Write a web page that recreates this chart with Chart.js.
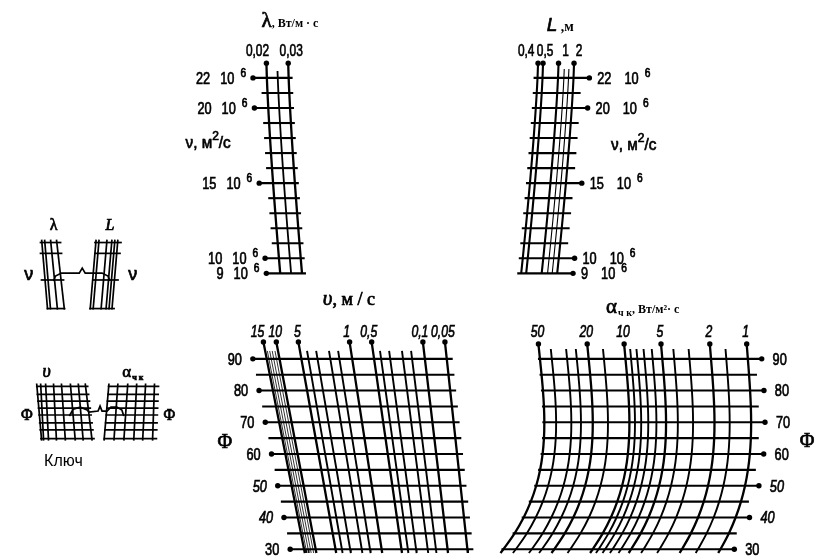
<!DOCTYPE html>
<html>
<head>
<meta charset="utf-8" />
<title>Номограмма</title>
<script src="https://cdn.jsdelivr.net/npm/chart.js@4.4.0/dist/chart.umd.min.js"></script>
<style>
    html, body { margin: 0; padding: 0; background: #fff; }
    #wrap { width: 822px; height: 557px; }
</style>
</head>
<body>
<div id="wrap"><canvas id="nomo" width="822" height="557"></canvas></div>
<script>
// scale values of the nomogram
const viscosityTicks = [22, 21, 20, 19, 18, 17, 16, 15, 14, 13, 12, 11, 10, 9];   // ν·10^6, м²/с
const viscosityLabels = [22, 20, 15, 10, 9];
const conductivityLines = [0.02, 0.025, 0.03];                                      // λ
const conductivityLabels = ['0,02', '0,03'];
const lengthLines = [0.4, 0.5, 1, 1.3, 1.6, 2];                                     // L, м
const lengthLabels = ['0,4', '0,5', '1', '2'];
const velocityLines = [15, 14, 13, 12, 11, 10, 5, 4, 3, 2, 1.5, 1, 0.5, 0.4, 0.3, 0.2, 0.15, 0.1, 0.05]; // υ, м/с
const velocityLabels = ['15', '10', '5', '1', '0,5', '0,1', '0,05'];
const humidityLines = [90, 85, 80, 75, 70, 65, 60, 55, 50, 45, 40, 35, 30];         // Φ
const humidityLabels = [90, 80, 70, 60, 50, 40, 30];
const heatLines = [50, 40, 30, 25, 20, 15, 10, 9, 8, 7, 6, 5, 4, 3, 2, 1.5, 1];    // α чк
const heatLabels = ['50', '20', '10', '5', '2', '1'];

// label nudges where the printed numbers are spread apart
const conductivityLabelShift = [-9, 3];
const lengthLabelShift = [-12, 2, 7, 5];
const velocityLabelShift = [-6, -1, -1, -3, -3, -3, -2];

const num = s => parseFloat(String(s).replace(',', '.'));
const isLabel = (list, v) => list.some(s => num(s) === v);

// nomogram geometry (chart units = canvas px)
const nuY = nu => 75 + (22 - nu) * 15.25;
const lamX = (lam, y) => 265 + (lam - 0.02) * 2200 + 14 * Math.pow(Math.max(0, (y - 60) / 214), 1.3);
const lenX = (L, y) => 560 + 52 * Math.log10(L) - 17 * Math.pow(Math.max(0, (y - 60) / 213), 1.3);
const phiY = phi => 360 + (90 - phi) * 3.22;
const velX = (v, y) => {
    const t = (y - 343) / 210;
    return 262 + 41 * t + (349 - 74 * Math.log10(v) - 262) * (1 - 0.1 * t);
};
const heatX = (a, y) => {
    const t = (y - 358) / 193;
    const bend = 20 * t - 55 * t * t * t;
    return 751 - 123.6 * Math.log10(a) + bend * (0.75 + 0.25 * Math.log10(a) / 1.7);
};

const datasets = [];
const addLine = (pts, width, tension = 0) => datasets.push({
    data: pts, showLine: true, borderColor: '#000', borderWidth: width, tension,
    pointRadius: c => (c.raw && c.raw.dot ? 2.7 : 0),
    pointBackgroundColor: '#000', pointBorderWidth: 0, clip: false
});

// λ – ν block
conductivityLines.forEach(lam => {
    const lab = isLabel(conductivityLabels, lam);
    const top = lab ? 60 : 68;
    const pts = [{ x: lamX(lam, top), y: top, dot: lab }];
    viscosityTicks.forEach(nu => pts.push({ x: lamX(lam, nuY(nu)), y: nuY(nu) }));
    addLine(pts, lab ? 2.3 : 1.8, 0.2);
});
viscosityTicks.forEach(nu => {
    const y = nuY(nu), lab = viscosityLabels.includes(nu);
    addLine([{ x: lamX(0.02, y) - (lab ? 14 : 6), y, dot: lab }, { x: lamX(0.03, y) + 4, y }], 2.1);
});

// L – ν block
lengthLines.forEach(L => {
    const lab = isLabel(lengthLabels, L);
    const top = lab ? 60 : 66;
    const pts = [{ x: lenX(L, top), y: top, dot: lab }];
    viscosityTicks.forEach(nu => pts.push({ x: lenX(L, nuY(nu)), y: nuY(nu) }));
    addLine(pts, lab ? 2.1 : 1.1, 0.2);
});
viscosityTicks.forEach(nu => {
    const y = nuY(nu), lab = viscosityLabels.includes(nu);
    addLine([{ x: lenX(0.4, y) - 4, y }, { x: lenX(2, y) + (lab ? 16 : 8), y, dot: lab }], 2.1);
});

// υ – Φ block
velocityLines.forEach(v => {
    const lab = isLabel(velocityLabels, v);
    const hatch = v > 10 && v < 15;
    const top = lab ? 343 : 352;
    const pts = [{ x: velX(v, top), y: top, dot: lab }];
    humidityLines.forEach(phi => pts.push({ x: velX(v, phiY(phi)), y: phiY(phi) }));
    pts.push({ x: velX(v, 557), y: 557 });
    addLine(pts, hatch ? 0.8 : (lab ? 2.3 : 1.9));
});
humidityLines.forEach(phi => {
    const y = phiY(phi), lab = humidityLabels.includes(phi);
    addLine([{ x: velX(15, y) - 14, y, dot: lab }, { x: velX(0.05, y) + 6, y }], 2.1);
});

// α – Φ block
heatLines.forEach(a => {
    const lab = isLabel(heatLabels, a);
    const top = lab ? 345 : 350;
    const pts = [{ x: heatX(a, top), y: top, dot: lab }];
    humidityLines.forEach(phi => pts.push({ x: heatX(a, phiY(phi)), y: phiY(phi) }));
    pts.push({ x: heatX(a, 557), y: 557 });
    addLine(pts, lab ? 2.3 : 1.9, 0.35);
});
humidityLines.forEach(phi => {
    const y = phiY(phi), lab = humidityLabels.includes(phi);
    addLine([{ x: heatX(50, y) - 2, y }, { x: heatX(1, y) + (lab ? 14 : 8), y, dot: lab }], 2.1);
});

// key sketches
const keyPaths = [
    [[38, 239], [44, 310]], [[41, 239], [47, 310]], [[47, 239], [54, 310]], [[53, 239], [61, 310]],
    [[36, 242], [58, 242]], [[36, 253], [59, 253]], [[37, 280], [61, 280]], [[43, 309], [62, 309]],
    [[93, 239], [87, 310]], [[96, 239], [90, 310]], [[104, 239], [98, 310]], [[109, 239], [103, 310]], [[112, 239], [106, 310]], [[115, 239], [109, 310]],
    [[91, 242], [119, 242]], [[91, 253], [118, 253]], [[89, 280], [116, 280]], [[86, 309], [112, 309]],
    [[50, 281], [52, 276], [58, 273], [76, 273], [79, 268], [82, 273], [99, 273], [105, 276], [107, 281]],
    [[66, 418], [70, 411], [77, 409], [84, 412], [86, 414], [95, 413], [97, 408], [99, 413], [104, 413], [108, 409], [114, 409], [119, 412], [121, 418]]
];
[33, 37, 42, 50, 58, 67, 75, 82].forEach((t, i) => keyPaths.push([[t, 385], [[38, 40, 45, 53, 62, 72, 80, 89][i], 443]]));
[106, 115, 125, 134, 143, 152].forEach((t, i) => keyPaths.push([[t, 385], [[101, 111, 121, 131, 140, 150][i], 443]]));
[388, 396, 403, 410, 417, 425, 432, 441].forEach(y => {
    keyPaths.push([[32 + (y - 385) * 0.08, y], [85 + (y - 385) * 0.12, y]]);
    keyPaths.push([[105 - (y - 385) * 0.08, y], [157 - (y - 385) * 0.04, y]]);
});

const SANS = '"Liberation Sans", Arial, sans-serif';
const SERIF = '"Liberation Serif", "Times New Roman", serif';
const digits = (size, italic) => `${italic ? 'italic ' : ''}${size}px ${SANS}`;

// draws a run of text pieces; a thin stroke thickens the glyphs like the printed ones
function run(ctx, pieces, x, y, align) {
    const widths = pieces.map(p => {
        ctx.font = p.font;
        return ctx.measureText(p.t).width * (p.sx || 1) + (p.gap || 0);
    });
    const total = widths.reduce((a, b) => a + b, 0);
    let cx = align === 'right' ? x - total : align === 'center' ? x - total / 2 : x;
    pieces.forEach((p, i) => {
        ctx.save();
        ctx.font = p.font;
        ctx.fillStyle = '#000';
        ctx.strokeStyle = '#000';
        ctx.lineWidth = p.heavy === false ? 0 : 0.7;
        ctx.textAlign = 'left';
        ctx.textBaseline = 'alphabetic';
        ctx.translate(cx + (p.gap || 0), y + (p.dy || 0));
        ctx.scale(p.sx || 1, 1);
        ctx.fillText(p.t, 0, 0);
        if (p.heavy !== false) ctx.strokeText(p.t, 0, 0);
        ctx.restore();
        cx += widths[i];
    });
}

const nuPieces = (nu, gap) => [
    { t: String(nu), font: digits(17), sx: 0.75 },
    { t: '10', font: digits(17), sx: 0.75, gap },
    { t: '6', font: digits(12), sx: 0.85, dy: -7, gap: 6 }
];
const nuTitle = [
    { t: 'ν, м', font: `17px ${SANS}`, sx: 0.9 },
    { t: '2', font: `12px ${SANS}`, dy: -8 },
    { t: '/с', font: `17px ${SANS}`, sx: 0.9 }
];

const textPlugin = {
    id: 'nomoText',
    afterDatasetsDraw(chart) {
        const ctx = chart.ctx;
        const sx = chart.scales.x, sy = chart.scales.y;
        const px = v => sx.getPixelForValue(v), py = v => sy.getPixelForValue(v);

        // key
        ctx.save();
        ctx.strokeStyle = '#000';
        ctx.lineWidth = 1.7;
        keyPaths.forEach(path => {
            ctx.beginPath();
            path.forEach(([x, y], i) => i ? ctx.lineTo(px(x), py(y)) : ctx.moveTo(px(x), py(y)));
            ctx.stroke();
        });
        ctx.restore();
        run(ctx, [{ t: 'λ', font: `16px ${SERIF}` }], px(50), py(229), 'center');
        run(ctx, [{ t: 'L', font: `italic 16px ${SERIF}` }], px(107), py(229), 'center');
        run(ctx, [{ t: 'ν', font: `18px ${SANS}` }], px(25), py(280), 'center');
        run(ctx, [{ t: 'ν', font: `18px ${SANS}` }], px(130), py(280), 'center');
        run(ctx, [{ t: 'υ', font: `italic 18px ${SERIF}` }], px(43), py(378), 'center');
        run(ctx, [{ t: 'α', font: `17px ${SERIF}` }, { t: 'ч к', font: `bold 8px ${SERIF}`, dy: 3, gap: 1 }], px(130), py(378), 'center');
        run(ctx, [{ t: 'Φ', font: `16px ${SERIF}` }], px(23), py(422), 'center');
        run(ctx, [{ t: 'Φ', font: `16px ${SERIF}` }], px(167), py(422), 'center');
        run(ctx, [{ t: 'Ключ', font: `16px ${SANS}`, heavy: false }], px(60), py(469), 'center');

        // λ block
        run(ctx, [{ t: 'λ', font: `21px ${SERIF}` }, { t: ', Вт/м · с', font: `bold 12px ${SERIF}`, heavy: false }], px(260), py(23), 'left');
        conductivityLabels.forEach((s, i) =>
            run(ctx, [{ t: s, font: digits(17), sx: 0.7 }], px(lamX(num(s), 60) + conductivityLabelShift[i]), py(53), 'center'));
        viscosityLabels.forEach(nu =>
            run(ctx, nuPieces(nu, 10), px(lamX(0.02, nuY(nu)) - 21), py(nuY(nu) + 6), 'right'));
        run(ctx, nuTitle, px(229), py(146), 'right');

        // L block
        run(ctx, [{ t: 'L', font: `italic 19px ${SANS}` }, { t: ' ,м', font: `bold 14px ${SERIF}`, heavy: false }], px(548), py(27), 'left');
        lengthLabels.forEach((s, i) =>
            run(ctx, [{ t: s, font: digits(17), sx: 0.7 }], px(lenX(num(s), 60) + lengthLabelShift[i]), py(53), 'center'));
        viscosityLabels.forEach(nu =>
            run(ctx, nuPieces(nu, 13), px(lenX(2, nuY(nu)) + 24), py(nuY(nu) + 6), 'left'));
        run(ctx, nuTitle, px(613), py(148), 'left');

        // υ block
        run(ctx, [{ t: 'υ', font: `italic 21px ${SERIF}` }, { t: ', м / с', font: `18px ${SERIF}` }], px(322), py(305), 'left');
        velocityLabels.forEach((s, i) =>
            run(ctx, [{ t: s, font: digits(17, true), sx: 0.72 }], px(velX(num(s), 343) + velocityLabelShift[i]), py(338), 'center'));
        humidityLabels.forEach(phi => {
            const y = phiY(phi);
            run(ctx, [{ t: String(phi), font: digits(17, phi === 50 || phi === 40), sx: 0.75 }], px(velX(15, y) - 25), py(y + 6), 'right');
        });
        run(ctx, [{ t: 'Φ', font: `20px ${SERIF}` }], px(223), py(450), 'center');

        // α block
        run(ctx, [{ t: 'α', font: `21px ${SERIF}` }, { t: 'ч к', font: `bold 10px ${SERIF}`, dy: 3, gap: 1, heavy: false },
                  { t: ', Вт/м²· с', font: `bold 12px ${SERIF}`, heavy: false }], px(608), py(313), 'left');
        heatLabels.forEach(s =>
            run(ctx, [{ t: s, font: digits(17, true), sx: 0.72 }], px(heatX(num(s), 345) - 1), py(338), 'center'));
        humidityLabels.forEach(phi => {
            const y = phiY(phi);
            run(ctx, [{ t: String(phi), font: digits(17, phi === 50 || phi === 40), sx: 0.75 }], px(heatX(1, y) + 25), py(y + 6), 'left');
        });
        run(ctx, [{ t: 'Φ', font: `20px ${SERIF}` }], px(811), py(449), 'center');
    }
};

new Chart(document.getElementById('nomo'), {
    type: 'scatter',
    data: { datasets },
    options: {
        responsive: false,
        animation: false,
        events: [],
        layout: { padding: 0 },
        plugins: { legend: { display: false }, tooltip: { enabled: false } },
        scales: {
            x: { type: 'linear', min: 0, max: 822, display: false },
            y: { type: 'linear', min: 0, max: 557, reverse: true, display: false }
        }
    },
    plugins: [textPlugin]
});
</script>
</body>
</html>
